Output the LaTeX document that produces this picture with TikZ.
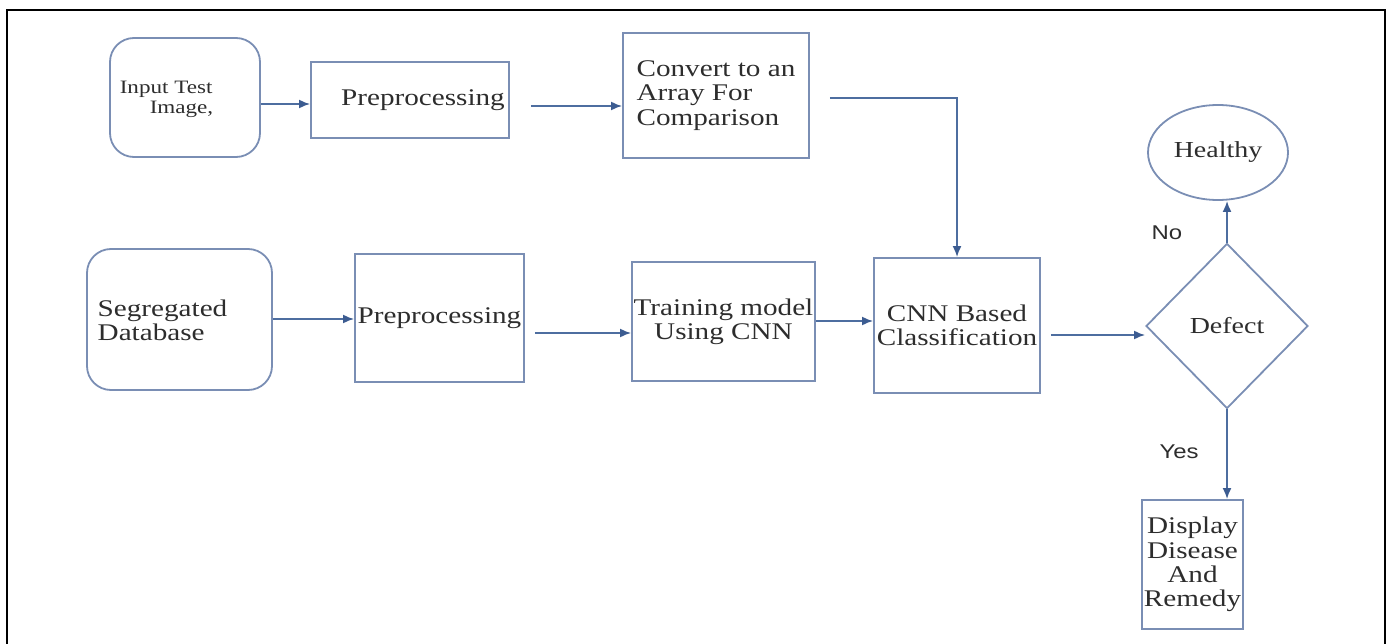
\documentclass[tikz,border=0pt]{standalone}
\usepackage{fontspec}
\setmainfont{Liberation Serif}[FakeStretch=1.22]
\newfontfamily\lblfont{Liberation Sans}[FakeStretch=1.2]
\usetikzlibrary{shapes.geometric,arrows.meta}
\definecolor{boxc}{RGB}{122,142,180}
\definecolor{arrc}{RGB}{78,110,160}
\definecolor{tipc}{RGB}{60,92,145}
\definecolor{txtc}{RGB}{45,45,45}
\begin{document}
\begin{tikzpicture}[x=1bp,y=-1bp,
  box/.style={draw=boxc,line width=1.8bp,rectangle,inner sep=0pt,text=txtc,
    font=\fontsize{24}{24.5}\selectfont,align=center},
  rbox/.style={box,rounded corners=24bp},
  txt/.style={inner sep=0pt,text=txtc,font=\fontsize{24}{24.5}\selectfont},
  arr/.style={draw=arrc,line width=1.9bp,-{Latex[length=11bp,width=9bp,color=tipc]}},
  lbl/.style={inner sep=0pt,text=txtc,font=\lblfont\fontsize{20}{22}\selectfont}]

\useasboundingbox (0,0) rectangle (1391,644);
\draw[line width=2.5bp] (7,650) -- (7,10) -- (1385,10) -- (1385,650);

% top row
\node[rbox,minimum width=150bp,minimum height=119bp] (in) at (185,97.5) {};
\node[inner sep=0pt,text=txtc,font=\fontsize{19}{20}\selectfont,align=left] (intxt) at (166.5,99) {Input Test\\\hspace*{30bp}Image,};
\node[box,minimum width=198bp,minimum height=76bp] (p1) at (410,100) {\hspace*{26bp}Preprocessing};
\node[box,minimum width=186bp,minimum height=125bp,align=left] (cv) at (716,95.5) {Convert to an\\Array For\\Comparison};

% middle row
\node[rbox,minimum width=185bp,minimum height=141bp] (seg) at (179.5,319.5) {};
\node[txt,align=left] (segtxt) at (162.5,320.5) {Segregated\\Database};
\node[box,minimum width=169bp,minimum height=128bp] (p2) at (439.5,318) {Preprocessing};
\node[box,minimum width=183bp,minimum height=119bp] (tr) at (723.5,321.5) {Training model\\Using CNN};
\node[box,minimum width=166bp,minimum height=135bp] (cnn) at (957,325.5) {CNN Based\\Classification};

% decision
\node[draw=boxc,line width=1.8bp,diamond,inner sep=0pt,minimum width=162bp,minimum height=165bp,text=txtc,font=\fontsize{23}{24}\selectfont] (def) at (1227,326) {Defect};
\node[draw=boxc,line width=1.8bp,ellipse,inner sep=0pt,minimum width=140bp,minimum height=95bp,text=txtc,font=\fontsize{23}{24}\selectfont] (hl) at (1218,152.5) {Healthy};
\node[box,minimum width=101bp,minimum height=129bp] (disp) at (1192.5,564.5) {Display\\Disease\\And\\Remedy};

\node[lbl] (no) at (1167,233) {No};
\node[lbl] (yes) at (1179,452) {Yes};

% connectors
\draw[arr] (in.east |- 0,104) -- (p1.west |- 0,104);
\draw[arr,shorten <=21bp] (p1.east |- 0,106) -- (cv.west |- 0,106);
\draw[arr,shorten <=20bp] (cv.east |- 0,98) -- (cnn.north |- 0,98) -- (cnn.north);
\draw[arr] (seg.east |- 0,319) -- (p2.west |- 0,319);
\draw[arr,shorten <=10bp] (p2.east |- 0,333) -- (tr.west |- 0,333);
\draw[arr] (tr.east |- 0,321) -- (cnn.west |- 0,321);
\draw[arr,shorten <=10bp] (cnn.east |- 0,335) -- (def.west |- 0,335);
\draw[arr] (def.north) -- (def.north |- hl.south);
\draw[arr] (def.south) -- (def.south |- disp.north);
\end{tikzpicture}
\end{document}
